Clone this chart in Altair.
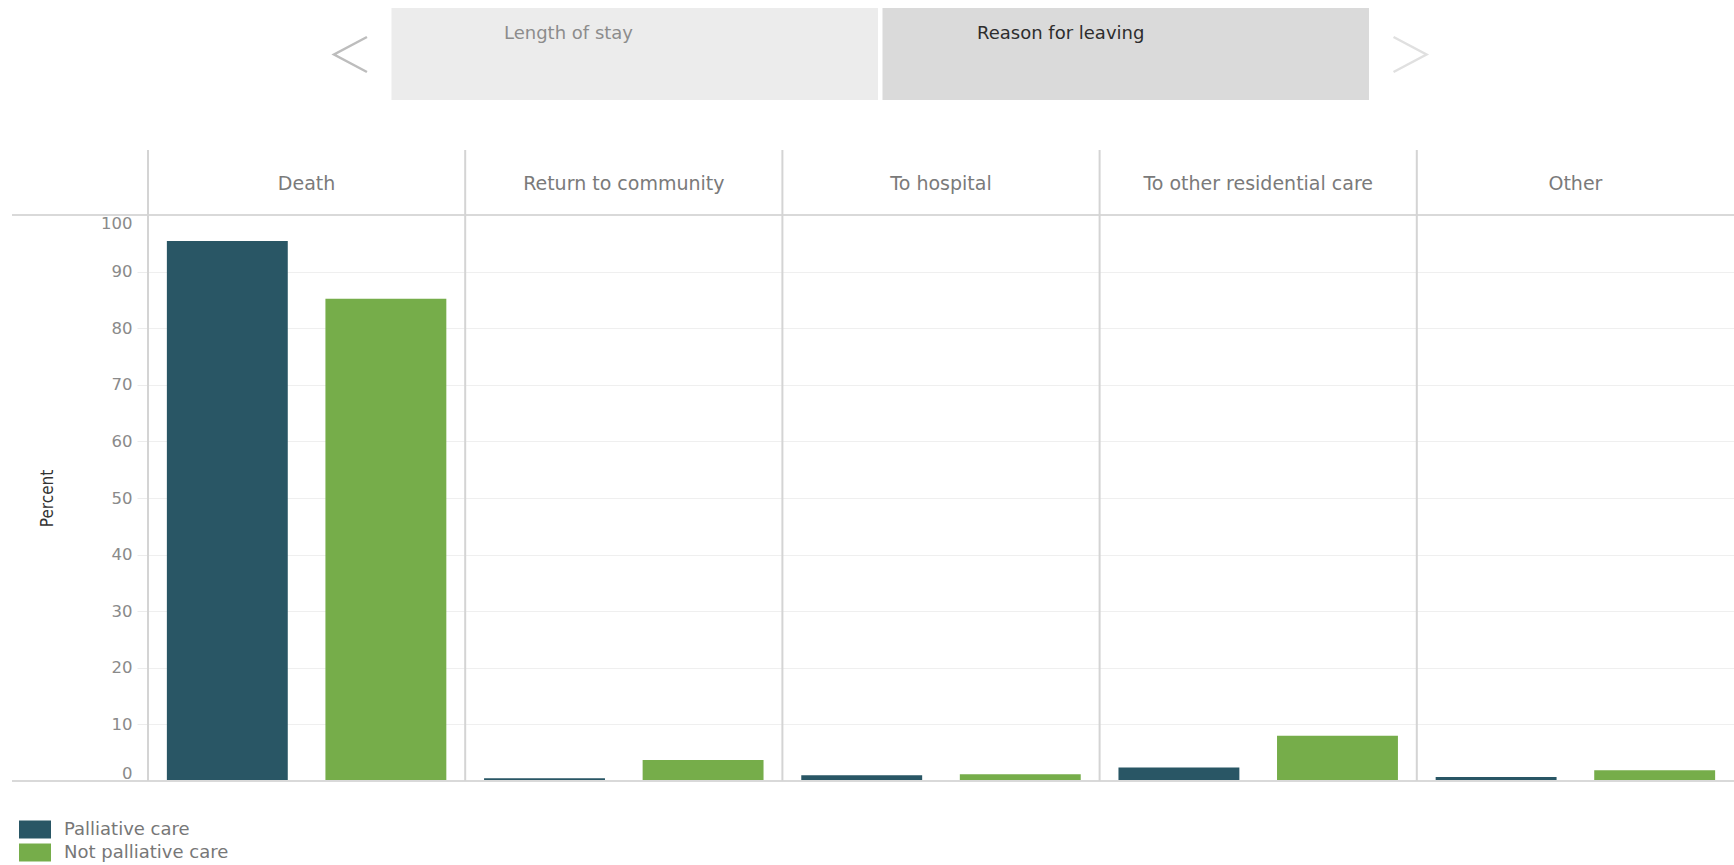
import altair as alt
import pandas as pd

reasons = ["Death", "Return to community", "To hospital", "To other residential care", "Other"]
groups = ["Palliative care", "Not palliative care"]
palliative = [95.4, 0.5, 1.0, 2.4, 0.7]
not_palliative = [85.2, 3.7, 1.2, 8.0, 1.9]
y_ticks = [0, 10, 20, 30, 40, 50, 60, 70, 80, 90, 100]
tab_labels = ["Length of stay", "Reason for leaving"]
bar_colors = ["#295665", "#76ad4a"]

rows = []
for i, r in enumerate(reasons):
    rows.append({"reason": r, "group": groups[0], "value": palliative[i]})
    rows.append({"reason": r, "group": groups[1], "value": not_palliative[i]})
df = pd.DataFrame(rows)
cats = pd.DataFrame({"reason": reasons})
tab0 = pd.DataFrame({"t": [tab_labels[0]]})
tab1 = pd.DataFrame({"t": [tab_labels[1]]})
edges = pd.DataFrame({"value": [100, 0]})

W, H = 1586, 566
FONT = "DejaVu Sans"
COND = "DejaVu Sans Condensed, Liberation Sans Narrow, DejaVu Sans"
LINE = "#d9d9d9"

y_axis = alt.Axis(values=y_ticks, labelFlush=True, grid=True, gridColor="#efefef",
                  gridWidth=1, tickColor="#ececec", tickSize=11, labelPadding=5,
                  domain=False, labelFont=FONT, labelFontSize=16.5, labelColor="#8a8a8a",
                  title="Percent", titleFont=COND, titleFontSize=17,
                  titleFontWeight="normal", titleColor="#333333", titleAngle=270,
                  titleX=-101, titleY=283, titleAlign="center", titleBaseline="middle")
y_scale = alt.Scale(domain=[0, 100], nice=False)

x_enc = alt.X("reason:N", sort=reasons, scale=alt.Scale(paddingInner=0, paddingOuter=0), axis=None)

bars = alt.Chart(df).mark_bar().encode(
    x=x_enc,
    xOffset=alt.XOffset("group:N", sort=groups,
                        scale=alt.Scale(paddingInner=0.2375, paddingOuter=0.119)),
    y=alt.Y("value:Q", scale=y_scale, axis=y_axis),
    color=alt.Color("group:N", sort=groups,
                    scale=alt.Scale(domain=groups, range=bar_colors),
                    legend=alt.Legend(orient="none", legendX=-125, legendY=602.5, title=None,
                                      symbolType="M-1.333,-0.75H1.333V0.75H-1.333Z",
                                      symbolSize=576, symbolStrokeWidth=0,
                                      labelFont=FONT, labelFontSize=18, labelColor="#777777",
                                      labelLimit=600,
                                      labelOffset=17, rowPadding=2, padding=0)),
)

seps = alt.Chart(cats).mark_rule(color="#d4d4d4", strokeWidth=2).encode(
    x=alt.X("reason:N", sort=reasons, bandPosition=0, axis=None),
    y=alt.value(-65), y2=alt.value(H),
)

headers = alt.Chart(cats).mark_text(font=FONT, fontSize=19, color="#7a7a7a",
                                     baseline="alphabetic").encode(
    x=alt.X("reason:N", sort=reasons, axis=None),
    y=alt.value(-25),
    text="reason:N",
)

hlines = alt.Chart(edges).mark_rule(color=LINE, strokeWidth=2).encode(
    y=alt.Y("value:Q", scale=y_scale, axis=y_axis),
    x=alt.value(-136), x2=alt.value(W),
)

tab_a = alt.Chart(tab0).mark_rect(color="#ececec").encode(
    x=alt.value(243.5), x2=alt.value(730), y=alt.value(-207), y2=alt.value(-115))
tab_b = alt.Chart(tab1).mark_rect(color="#dadada").encode(
    x=alt.value(734.5), x2=alt.value(1221), y=alt.value(-207), y2=alt.value(-115))
tab_a_txt = alt.Chart(tab0).mark_text(font=FONT, fontSize=18, color="#8c8c8c", align="left",
                                      baseline="alphabetic").encode(
    x=alt.value(356), y=alt.value(-176), text="t:N")
tab_b_txt = alt.Chart(tab1).mark_text(font=FONT, fontSize=18, color="#2d2d2d", align="left",
                                      baseline="alphabetic").encode(
    x=alt.value(829), y=alt.value(-176), text="t:N")

chev_l = alt.Chart(tab0).mark_point(shape="M0.94,-1L-0.94,0L0.94,1", filled=False, size=1225,
                                    strokeWidth=2.5, color="#bdbdbd", opacity=1).encode(
    x=alt.value(202.5), y=alt.value(-160.5))
chev_r = alt.Chart(tab1).mark_point(shape="M-0.94,-1L0.94,0L-0.94,1", filled=False, size=1225,
                                    strokeWidth=2.5, color="#e0e0e0", opacity=1).encode(
    x=alt.value(1262), y=alt.value(-160.5))

chart = alt.layer(
    bars, tab_a, tab_b, tab_a_txt, tab_b_txt, chev_l, chev_r, hlines, seps, headers
).properties(
    width=W, height=H,
    autosize=alt.AutoSizeParams(type="none"),
    padding={"left": 148, "top": 215, "right": 0, "bottom": 84},
    background="white",
).configure_view(stroke=None)

chart.save("out.html", embed_options={"renderer": "svg", "actions": False})
